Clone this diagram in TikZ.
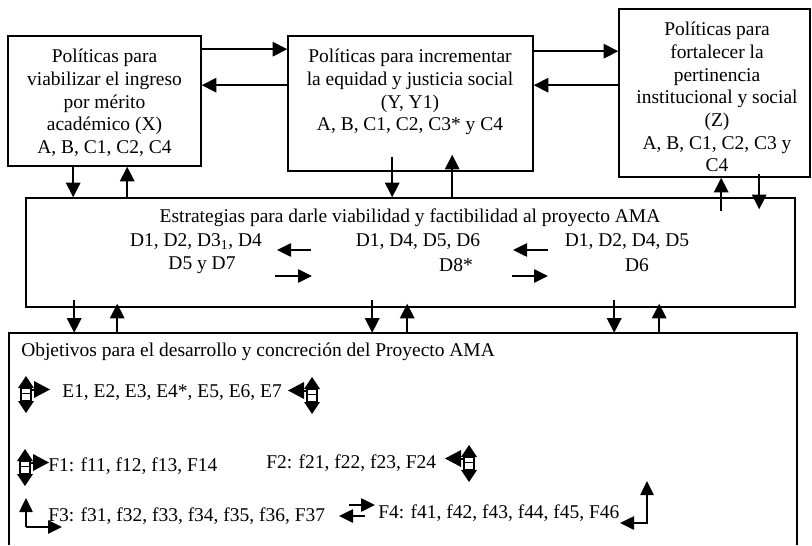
\documentclass[tikz,border=0pt]{standalone}
\usepackage{fontspec}
\setmainfont{Liberation Serif}
\usetikzlibrary{arrows.meta,calc,fit}
\begin{document}
\begin{tikzpicture}[x=0.75pt,y=-0.75pt,
  box/.style={draw,line width=1.2pt,inner sep=0pt},
  area/.style={inner sep=0pt},
  txt/.style={font=\fontsize{14.6}{17}\selectfont,inner sep=0pt,align=center},
  ltxt/.style={font=\fontsize{14.6}{17}\selectfont,inner sep=0pt,anchor=west},
  arr/.style={line width=1.1pt,-{Triangle[length=11pt,width=11pt]}},
  sarr/.style={line width=1.1pt,-{Triangle[length=10.5pt,width=10pt]}},
  quad/.pic={
    \fill (-8,-7) -- (8,-7) -- (0,-19) -- cycle;
    \fill (-8,6) -- (8,6) -- (0,18) -- cycle;
    \draw[line width=0.8pt,fill=white] (-5,-7) rectangle (5,6);
    \draw[line width=0.8pt] (-5,-1.5) -- (5,-1.5);
    \draw[line width=0.8pt] (5,-5) -- (9,-5);
    \fill (8,-14) -- (8,3) -- (24,-5.5) -- cycle;
  }
]
\useasboundingbox (0,0) rectangle (812,545);

% boxes
\path (8,36) coordinate (x1) (201,166) coordinate (x2);
\node[box,fit=(x1)(x2)] (X) {};
\path (288,36) coordinate (y1) (533,171) coordinate (y2);
\node[box,fit=(y1)(y2)] (Y) {};
\path (619,9) coordinate (z1) (810,177) coordinate (z2);
\node[box,fit=(z1)(z2)] (Z) {};
\path (26,198) coordinate (m1) (795,307) coordinate (m2);
\node[box,fit=(m1)(m2)] (M) {};
\path (9,333) coordinate (b1) (797,545) coordinate (b2);
\node[area,fit=(b1)(b2)] (B) {};
\draw[line width=1.2pt] (B.south west) -- (B.north west) -- (B.north east) -- (B.south east);

% box texts
\node[txt,anchor=north] (Xt) at (104.5,49) {Políticas para\\viabilizar el ingreso\\por mérito\\académico (X)\\A, B, C1, C2, C4};
\node[txt,anchor=north] (Yt) at (410,49) {Políticas para incrementar\\la equidad y justicia social\\(Y, Y1)\\A, B, C1, C2, C3* y C4};
\node[txt,anchor=north] (Zt) at (717,22) {Políticas para\\fortalecer la\\pertinencia\\institucional y social\\(Z)\\A, B, C1, C2, C3 y\\C4};

% middle box texts
\node[txt] (Mt) at (410,218) {Estrategias para darle viabilidad y factibilidad al proyecto AMA};
\node[txt] (Dl1) at (196,242) {D1, D2, D3\textsubscript{1}, D4};
\node[txt] (Dl2) at (202,265) {D5 y D7};
\node[txt] (Dm1) at (418,242) {D1, D4, D5, D6};
\node[txt] (Dm2) at (456,265) {D8*};
\node[txt] (Dr1) at (627,242) {D1, D2, D4, D5};
\node[txt] (Dr2) at (637,265) {D6};
\draw[sarr] (311,250) -- (277,250);
\draw[sarr] (275,276) -- (312,276);
\draw[sarr] (548,250) -- (513,250);
\draw[sarr] (512,276) -- (548,276);

% bottom box texts
\node[ltxt] (Bt) at (21,352) {Objetivos para el desarrollo y concreción del Proyecto AMA};
\node[ltxt] (E) at (62,393) {E1, E2, E3, E4*, E5, E6, E7};
\node[ltxt] (F1) at (48,466) {F1: f11, f12, f13, F14};
\node[ltxt] (F2) at (266,463) {F2: f21, f22, f23, F24};
\node[ltxt] (F3) at (48,516) {F3: f31, f32, f33, f34, f35, f36, F37};
\node[ltxt] (F4) at (378,513) {F4: f41, f42, f43, f44, f45, F46};

% glyphs
\pic at (26,395) {quad};
\pic[xscale=-1] at (312,396) {quad};
\pic at (25,468) {quad};
\pic[xscale=-1] at (469,464) {quad};
\draw[sarr] (26,527) -- (26,498);
\draw[sarr] (25.5,527) -- (62,527);
\draw[sarr] (647,523) -- (647,481);
\draw[sarr] (647.5,523) -- (620,523);
\draw[sarr] (349,505) -- (375,505);
\draw[sarr] (365,516) -- (339,516);

% connectors between top boxes
\draw[arr] ($(X.north east)+(0,14)$) -- ($(Y.north west)+(0,14)$);
\draw[arr] ($(Y.north west)+(0,50)$) -- ($(X.north east)+(0,50)$);
\draw[arr] ($(Y.north east)+(0,16)$) -- ($(Z.north west)+(0,43)$);
\draw[arr] ($(Z.north west)+(0,77)$) -- ($(Y.north east)+(0,50)$);

% top boxes <-> middle box
\draw[arr] ($(X.south west)+(66,0)$) coordinate (a1) -- (a1 |- M.north);
\path ($(X.south west)+(120,0)$) coordinate (a2);
\draw[arr] (a2 |- M.north) -- (a2);
\draw[arr] ($(Y.south west)+(105,-15)$) coordinate (a3) -- (a3 |- M.north);
\path ($(Y.south west)+(165,-17)$) coordinate (a4);
\draw[arr] (a4 |- M.north) -- (a4);
\path ($(M.north west)+(696,14)$) coordinate (a5);
\draw[arr] (a5) -- (a5 |- Z.south);
\path ($(Z.south west)+(141,-4)$) coordinate (a6);
\draw[arr] (a6) -- ($(M.north west)+(734,12)$);

% middle box <-> bottom box
\foreach \dx/\ux [count=\i] in {49/92, 347/382, 589/634}{
  \path ($(M.south west)+(\dx,-8)$) coordinate (d\i);
  \draw[arr] (d\i) -- (d\i |- B.north);
  \path ($(M.south west)+(\ux,-4)$) coordinate (u\i);
  \draw[arr] (u\i |- B.north) -- (u\i);
}
\end{tikzpicture}
\end{document}
